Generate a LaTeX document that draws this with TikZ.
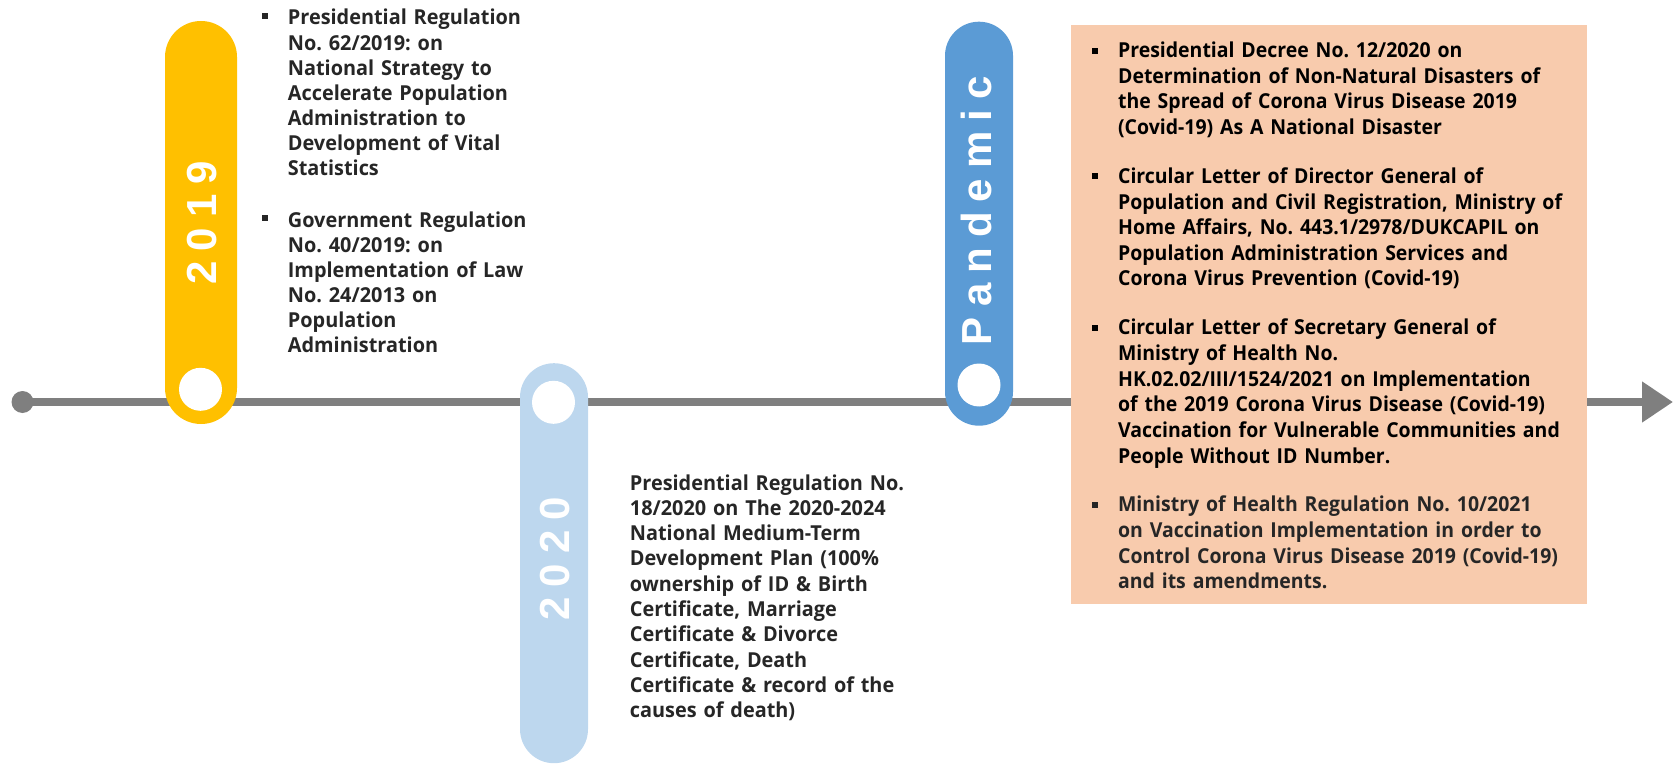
\documentclass[tikz,border=0pt]{standalone}
\usepackage{fontspec}
\usepackage{xcolor}
\usetikzlibrary{arrows.meta}

\newfontfamily\bodyfont[FakeStretch=0.965]{Open Sans}
\newfontfamily\boxfont[FakeStretch=0.945]{Open Sans}
\newfontfamily\yearfont{Liberation Sans}
\newcommand{\bodysize}[1]{\bodyfont\bfseries\fontsize{10.3pt}{#1}\selectfont\frenchspacing}
\newcommand{\ls}{\kern5pt}

\definecolor{gold}{HTML}{FFC000}
\definecolor{skyblue}{HTML}{BDD7EE}
\definecolor{midblue}{HTML}{5B9BD5}
\definecolor{peach}{HTML}{F8CBAD}
\definecolor{linegray}{HTML}{7F7F7F}
\definecolor{inkgray}{HTML}{262626}

\begin{document}
\begin{tikzpicture}[x=0.5pt,y=-0.5pt,
  pill/.style={rectangle,rounded corners=17pt,minimum width=34pt,inner sep=0pt},
  hole/.style={circle,fill=white,minimum size=21.5pt,inner sep=0pt},
  year/.style={rotate=90,text=white,inner sep=0pt,font=\yearfont\bfseries\fontsize{21pt}{21pt}\selectfont},
  entry/.style={anchor=base west,inner sep=0pt,align=left,text=inkgray,font=\bodysize{12.55pt}},
  squarebullet/.style={rectangle,fill=inkgray,minimum size=3pt,inner sep=0pt},
  knob/.style={circle,fill=linegray,minimum size=22pt*0.5,inner sep=0pt},
  axis/.style={linegray,line width=4pt,-{Triangle[length=15.5pt,width=19.5pt]}}]
\useasboundingbox (0,0) rectangle (1673,764);

% time axis
\node[knob] (start) at (22.5,402) {};
\coordinate (finish) at (1673,402);
\draw[axis] (start.center) -- (finish);

% bars for each period
\node[pill,fill=gold,minimum width=36pt,rounded corners=18pt,minimum height=201.5pt] (bar19) at (201,222.5) {};
\node[pill,fill=skyblue,minimum height=200pt] (bar20) at (554,563.2) {};
\node[pill,fill=midblue,minimum height=202pt] (barpan) at (979,223.7) {};
\node[hole] (hole19) at (200.5,389.3) {};
\node[hole] (hole20) at (553.5,402.3) {};
\node[hole] (holepan) at (979,385) {};
\node[year] (lab19) at (202,222.7) {2\ls0\ls1\ls9};
\node[year] (lab20) at (555,558.8) {2\ls0\ls2\ls0};
\node[year] (labpan) at (976.7,210.8) {P\ls a\ls n\ls d\ls e\ls m\ls i\ls c};

\node[fill=peach,minimum width=258pt,minimum height=289.65pt,inner sep=0pt] (panbox) at (1329,314.65) {};

% 2019
\node[entry,text width=160pt] (law19a) at (287.5,25) {Presidential Regulation\\No. 62/2019: on\\National Strategy to\\Accelerate Population\\Administration to\\Development of Vital\\Statistics};
\node[entry,text width=160pt] (law19b) at (287.5,227.3) {Government Regulation\\No. 40/2019: on\\Implementation of Law\\No. 24/2013 on\\Population\\Administration};
\node[squarebullet,xshift=-11.25pt,yshift=4.5pt] (dot19a) at (law19a.base west) {};
\node[squarebullet,xshift=-11.25pt,yshift=4.5pt] (dot19b) at (law19b.base west) {};

% 2020
\node[entry,text width=170pt,font=\bodysize{12.65pt}] (law20) at (629.5,490) {Presidential Regulation No.\\18/2020 on The 2020-2024\\National Medium-Term\\Development Plan (100\%\\ownership of ID \& Birth\\Certificate, Marriage\\Certificate \& Divorce\\Certificate, Death\\Certificate \& record of the\\causes of death)};

% pandemic
\begin{scope}[entry/.append style={text width=250pt,font=\bodysize{12.8pt}\boxfont}]
\node[entry,text=black] (dec1) at (1117.7,57.7) {Presidential Decree No. 12/2020 on\\Determination of Non-Natural Disasters of\\the Spread of Corona Virus Disease 2019\\(Covid-19) As A National Disaster};
\node[entry,text=black] (dec2) at (1117.7,183.5) {Circular Letter of Director General of\\Population and Civil Registration, Ministry of\\Home Affairs, No. 443.1/2978/DUKCAPIL on\\Population Administration Services and\\Corona Virus Prevention (Covid-19)};
\node[entry,text=black] (dec3) at (1117.7,335) {Circular Letter of Secretary General of\\Ministry of Health No.\\HK.02.02/III/1524/2021 on Implementation\\of the 2019 Corona Virus Disease (Covid-19)\\Vaccination for Vulnerable Communities and\\People Without ID Number.};
\node[entry] (dec4) at (1117.7,511.8) {Ministry of Health Regulation No. 10/2021\\on Vaccination Implementation in order to\\Control Corona Virus Disease 2019 (Covid-19)\\and its amendments.};
\end{scope}
\node[squarebullet,fill=black,xshift=-11.5pt,yshift=3.5pt] (dot1) at (dec1.base west) {};
\node[squarebullet,fill=black,xshift=-11.5pt,yshift=3.5pt] (dot2) at (dec2.base west) {};
\node[squarebullet,fill=black,xshift=-11.5pt,yshift=3.5pt] (dot3) at (dec3.base west) {};
\node[squarebullet,xshift=-11.5pt,yshift=3.5pt] (dot4) at (dec4.base west) {};
\end{tikzpicture}
\end{document}
